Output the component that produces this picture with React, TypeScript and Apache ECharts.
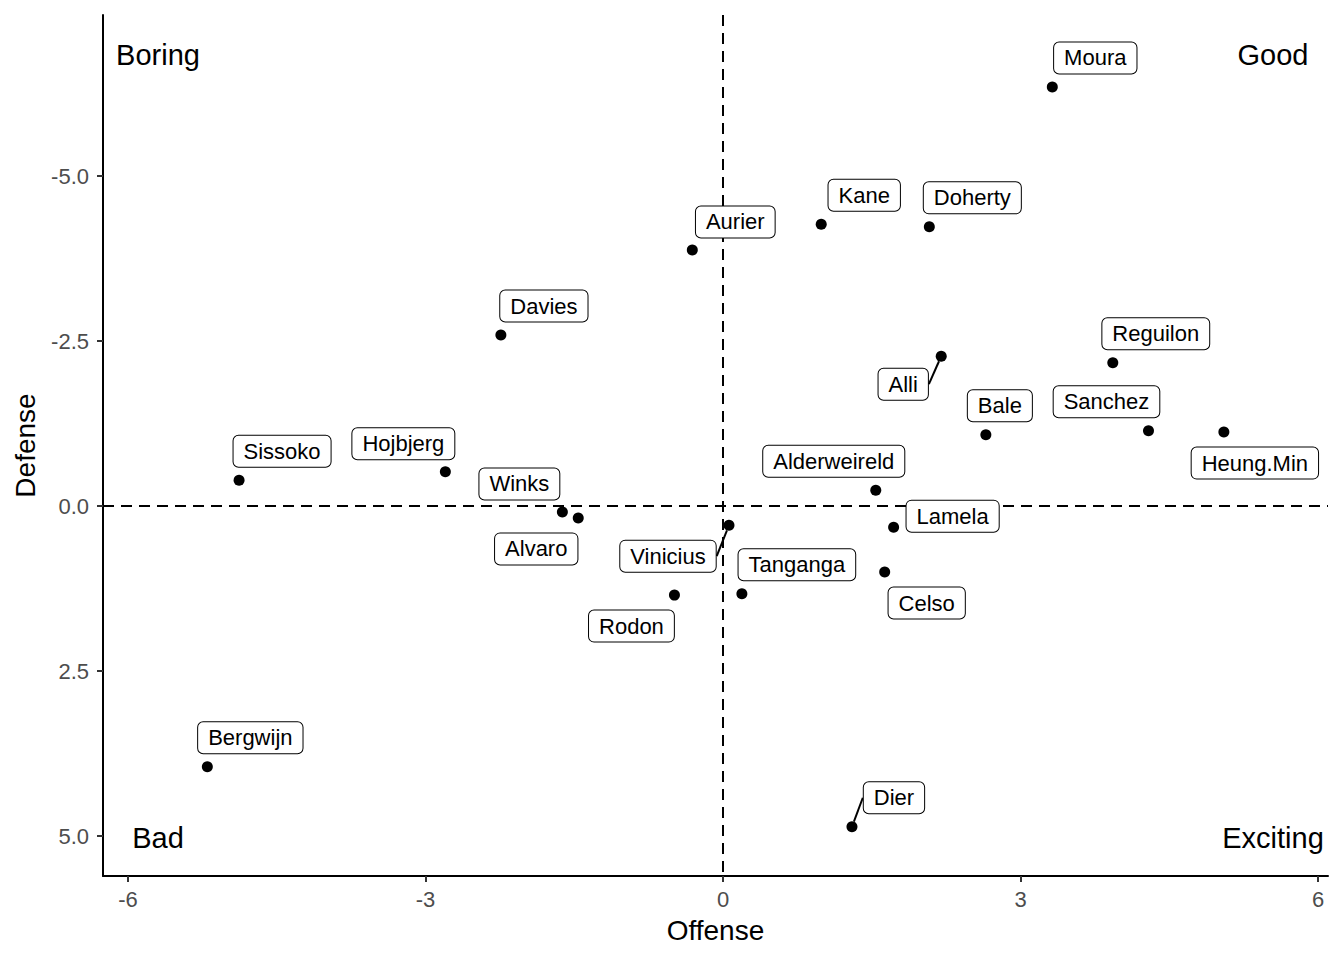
import React, { useEffect, useRef } from "react";
import * as echarts from "echarts";

const players = ["Moura", "Kane", "Doherty", "Aurier", "Davies", "Alli", "Reguilon", "Bale", "Sanchez", "Heung.Min", "Sissoko", "Hojbjerg", "Alderweireld", "Winks", "Alvaro", "Lamela", "Vinicius", "Celso", "Tanganga", "Rodon", "Bergwijn", "Dier"];
const offense = [3.32, 0.99, 2.08, -0.31, -2.24, 2.20, 3.93, 2.65, 4.29, 5.05, -4.88, -2.80, 1.54, -1.62, -1.46, 1.72, 0.06, 1.63, 0.19, -0.49, -5.20, 1.30];
const defense = [-6.35, -4.27, -4.23, -3.88, -2.59, -2.27, -2.17, -1.08, -1.14, -1.12, -0.39, -0.52, -0.24, 0.09, 0.18, 0.32, 0.29, 1.00, 1.33, 1.35, 3.95, 4.86];
const xTicks = [-6, -3, 0, 3, 6];
const yTicks = [-5, -2.5, 0, 2.5, 5];

// label layout (pixel shifts of label centres from their points, repel-style)
const labelShift: [number, number][] = [
  [43, -29], [43, -29], [43, -29], [43, -28], [43, -29], [-38, 28], [43, -29], [14, -29], [-42, -29], [31, 31],
  [43, -29], [-42, -28], [-42, -29], [-43, -28], [-42, 31], [59, -11], [-61, 31], [42, 31], [55, -29], [-43, 31],
  [43, -29], [42, -29],
];
const withSegment = ["Alli", "Vinicius", "Dier"];

const FONT = "Liberation Sans, Arial, Helvetica, sans-serif";

export default function App() {
  const ref = useRef<HTMLDivElement>(null);
  useEffect(() => {
    if (!ref.current) return;
    const chart = echarts.init(ref.current, null, { renderer: "svg" });
    const data = players.map((p, i) => ({
      name: p,
      value: [offense[i], defense[i]],
      labelLine: { show: withSegment.includes(p) },
    }));
    const corner = (text: string, x: number, y: number) => ({
      type: "text",
      x,
      y,
      style: { text, fontSize: 29, fill: "#000", align: "center", verticalAlign: "middle", fontFamily: FONT },
    });
    chart.setOption({
      animation: false,
      backgroundColor: "#ffffff",
      textStyle: { fontFamily: FONT },
      grid: { left: 103, right: 16, top: 15, bottom: 84, containLabel: false },
      xAxis: {
        type: "value",
        min: -6.252,
        max: 6.1,
        name: "Offense",
        nameLocation: "middle",
        nameGap: 40,
        nameTextStyle: { fontSize: 28, color: "#000", fontFamily: FONT },
        splitLine: { show: false },
        axisLine: { show: true, onZero: false, lineStyle: { color: "#000", width: 2 } },
        axisTick: { show: true, length: 6, customValues: xTicks, lineStyle: { color: "#333", width: 2 } },
        axisLabel: { customValues: xTicks, fontSize: 22, color: "#4d4d4d", margin: 12, fontFamily: FONT, formatter: (v: number) => String(v) },
      },
      yAxis: {
        type: "value",
        inverse: true,
        min: -7.44,
        max: 5.606,
        name: "Defense",
        nameLocation: "middle",
        nameGap: 64,
        nameRotate: 90,
        nameTextStyle: { fontSize: 28, color: "#000", fontFamily: FONT },
        splitLine: { show: false },
        axisLine: { show: true, onZero: false, lineStyle: { color: "#000", width: 2 } },
        axisTick: { show: true, length: 6, customValues: yTicks, lineStyle: { color: "#333", width: 2 } },
        axisLabel: { customValues: yTicks, fontSize: 22, color: "#4d4d4d", margin: 14, fontFamily: FONT, formatter: (v: number) => v.toFixed(1) },
      },
      graphic: [
        corner("Boring", 158, 55),
        corner("Good", 1273, 55),
        corner("Bad", 158, 838),
        corner("Exciting", 1273, 838),
      ],
      series: [
        {
          type: "scatter",
          data,
          symbol: "circle",
          symbolSize: 11,
          itemStyle: { color: "#000", opacity: 1 },
          z: 3,
          markLine: {
            silent: true,
            symbol: "none",
            label: { show: false },
            lineStyle: { color: "#000", type: [11, 7], width: 2 },
            data: [{ xAxis: 0 }, { yAxis: 0 }],
            z: 1,
          },
          label: {
            show: true,
            position: "inside",
            formatter: (p: any) => p.name,
            fontSize: 22,
            lineHeight: 22,
            color: "#000",
            fontFamily: FONT,
            backgroundColor: "#fff",
            borderColor: "#000",
            borderWidth: 1,
            borderRadius: 5,
            padding: [5, 10, 4, 10],
          },
          labelLine: { show: false, lineStyle: { color: "#000", width: 2 } },
          labelLayout: (params: any) => {
            const s = labelShift[params.dataIndex] || [0, 0];
            return { dx: s[0], dy: s[1] };
          },
        },
      ],
    });
    return () => chart.dispose();
  }, []);
  return <div ref={ref} style={{ width: 1344, height: 960, position: "absolute", left: 0, top: 0 }} />;
}
